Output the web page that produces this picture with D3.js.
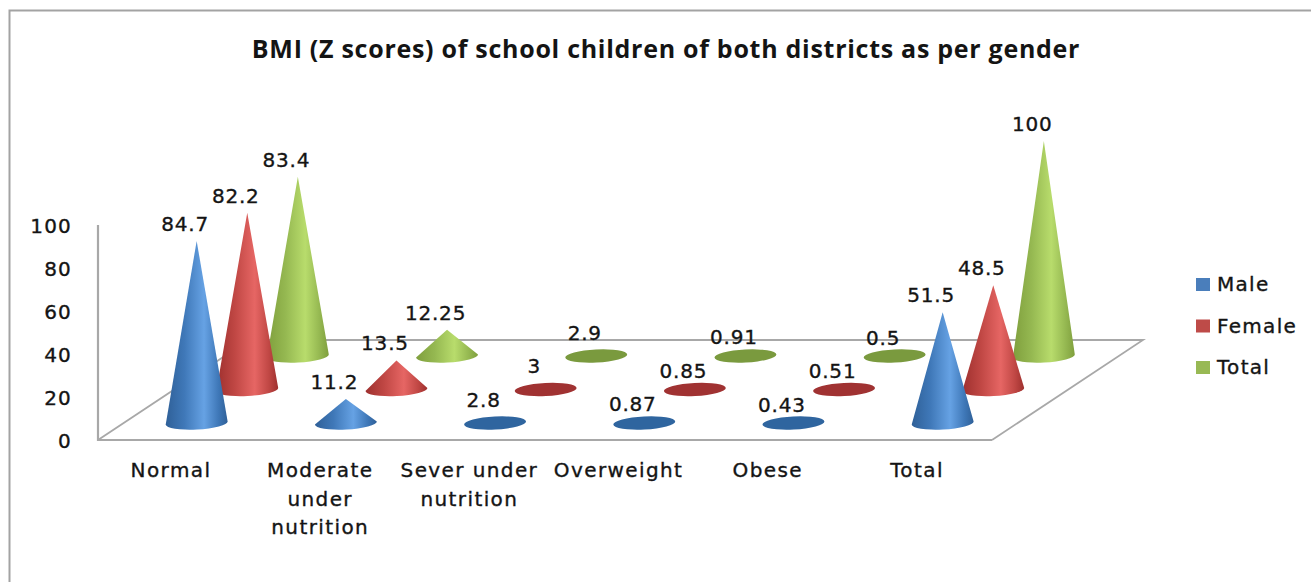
<!DOCTYPE html>
<html>
<head>
<meta charset="utf-8">
<script src="https://cdn.jsdelivr.net/npm/d3@7"></script>
<style>
  html, body { margin: 0; padding: 0; background: #fff; }
  svg { display: block; }
  text { font-family: "DejaVu Sans", sans-serif; fill: #141414; stroke: #141414; stroke-width: 0.35px; }
</style>
</head>
<body>
<div id="chart"></div>
<script>
const chartTitle = "BMI (Z scores) of school children of both districts as per gender";
const categories = ["Normal", "Moderate under nutrition", "Sever under nutrition", "Overweight", "Obese", "Total"];
const categoryLines = [["Normal"], ["Moderate", "under", "nutrition"], ["Sever under", "nutrition"], ["Overweight"], ["Obese"], ["Total"]];
const seriesNames = ["Male", "Female", "Total"];
const maleValues = [84.7, 11.2, 2.8, 0.87, 0.43, 51.5];
const femaleValues = [82.2, 13.5, 3, 0.85, 0.51, 48.5];
const totalValues = [83.4, 12.25, 2.9, 0.91, 0.5, 100];
const yTicks = [0, 20, 40, 60, 80, 100];
const seriesValues = [maleValues, femaleValues, totalValues];

const palette = {
  Male:   { edge: "#2f6098", body: "#3f78b8", light: "#66a2e4", flat: "#2f659f", swatch: "#4a7ebb" },
  Female: { edge: "#9e302e", body: "#c04744", light: "#e66664", flat: "#a03232", swatch: "#be4b48" },
  Total:  { edge: "#7f9f3d", body: "#95b851", light: "#b8dc6c", flat: "#7a9a3e", swatch: "#98b954" }
};

const width = 1311, height = 582;
const svg = d3.select("#chart").append("svg").attr("width", width).attr("height", height);
const defs = svg.append("defs");

// Horizontal shading that gives each cone its rounded look
seriesNames.forEach(name => {
  const c = palette[name];
  const grad = defs.append("linearGradient").attr("id", "cone-" + name)
    .attr("x1", 0).attr("x2", 1).attr("y1", 0).attr("y2", 0);
  [[0, c.edge], [0.3, c.body], [0.62, c.light], [0.85, c.body], [1, c.edge]].forEach(([o, col]) =>
    grad.append("stop").attr("offset", o).attr("stop-color", col));
});

// Scales: category along the floor front, series into the floor depth, value upward
const floor = { x0: 98, x1: 992, y: 440, dx: 151, dy: -100 };
const xScale = d3.scalePoint().domain(categories).range([171, 917]);
const depthScale = d3.scalePoint().domain(seriesNames).range([0.17, 0.84]);
const yScale = d3.scaleLinear().domain([0, 100]).range([floor.y, 225]);

const project = (category, series) => {
  const t = depthScale(series);
  return { x: xScale(category) + t * floor.dx, y: floor.y + t * floor.dy };
};

// Outer frame, open at the bottom
svg.append("path").attr("d", `M9.5,${height} V10.5 H${width}`)
  .attr("fill", "none").attr("stroke", "#a3a3a3").attr("stroke-width", 2);

// Title
svg.append("text").attr("x", 666).attr("y", 58).attr("text-anchor", "middle")
  .style("font-family", "'Open Sans', sans-serif").style("font-weight", 700)
  .style("font-size", "25px").style("letter-spacing", "0.72px").style("stroke-width", 0).text(chartTitle);

// Wall edge and floor outline
const frameGrey = "#a8a8a8";
svg.append("path")
  .attr("d", `M${floor.x0},${yScale(100)} V${floor.y} H${floor.x1}`)
  .attr("fill", "none").attr("stroke", frameGrey).attr("stroke-width", 2.2);
svg.append("path")
  .attr("d", `M${floor.x0},${floor.y} L${floor.x0 + floor.dx},${floor.y + floor.dy} H${floor.x1 + floor.dx} L${floor.x1},${floor.y}`)
  .attr("fill", "none").attr("stroke", frameGrey).attr("stroke-width", 1.8);

// Value axis
const axis = d3.axisLeft(yScale).tickValues(yTicks).tickSize(0).tickPadding(0);
const axisG = svg.append("g").attr("transform", "translate(72,0)").call(axis);
axisG.select(".domain").remove();
axisG.selectAll("text").attr("dy", null).attr("y", 7)
  .style("font-size", "20px").style("font-family", "'DejaVu Sans', sans-serif")
  .style("letter-spacing", "1.2px").style("fill", "#141414");

// Cones, back row first so nearer rows overlap them
const rx = 31, ry = 6.5, tilt = -3;
const rad = tilt * Math.PI / 180;
const marks = [];
seriesNames.slice().reverse().forEach(name => {
  const values = seriesValues[seriesNames.indexOf(name)];
  categories.forEach((cat, i) => {
    const p = project(cat, name);
    const h = floor.y - yScale(values[i]);
    marks.push({ name, value: values[i], x: p.x, y: p.y, h });
  });
});

const coneG = svg.append("g");
marks.forEach(m => {
  const lx = m.x - rx * Math.cos(rad), ly = m.y - rx * Math.sin(rad);
  const rxp = m.x + rx * Math.cos(rad), ryp = m.y + rx * Math.sin(rad);
  if (m.h <= ry * 1.1) {
    // Too short to rise above its own base: only the disc shows
    coneG.append("ellipse").attr("cx", m.x).attr("cy", m.y).attr("rx", rx).attr("ry", ry)
      .attr("transform", `rotate(${tilt},${m.x},${m.y})`)
      .attr("fill", palette[m.name].flat);
  } else {
    coneG.append("path")
      .attr("d", `M${m.x},${m.y - m.h} L${rxp},${ryp} A${rx},${ry} ${tilt} 0 1 ${lx},${ly} Z`)
      .attr("fill", `url(#cone-${m.name})`);
  }
});

// Value labels sit just up and to the left of each tip
svg.append("g").selectAll("text").data(marks).join("text")
  .attr("x", d => d.x - 11.5)
  .attr("y", d => d.y - d.h - 10)
  .attr("text-anchor", "middle")
  .style("font-size", "20px").style("letter-spacing", "0.8px")
  .text(d => d.value);

// Category labels under the floor
const catG = svg.append("g").selectAll("text").data(categories).join("text")
  .attr("x", d => xScale(d)).attr("y", 477)
  .attr("text-anchor", "middle")
  .style("font-size", "20px").style("letter-spacing", "1.4px");
catG.each(function(d, i) {
  d3.select(this).selectAll("tspan").data(categoryLines[i]).join("tspan")
    .attr("x", xScale(d)).attr("dy", (l, j) => j ? 28.5 : 0).text(l => l);
});

// Legend
const legendY = d3.scalePoint().domain(seriesNames).range([291, 374]);
const legend = svg.append("g").selectAll("g").data(seriesNames).join("g")
  .attr("transform", d => `translate(1196,${legendY(d)})`);
legend.append("rect").attr("x", 0).attr("y", -13).attr("width", 14).attr("height", 13)
  .attr("fill", d => palette[d].swatch);
legend.append("text").attr("x", 21).attr("y", 0)
  .style("font-size", "20px").style("letter-spacing", "1.3px").text(d => d);
</script>
</body>
</html>
